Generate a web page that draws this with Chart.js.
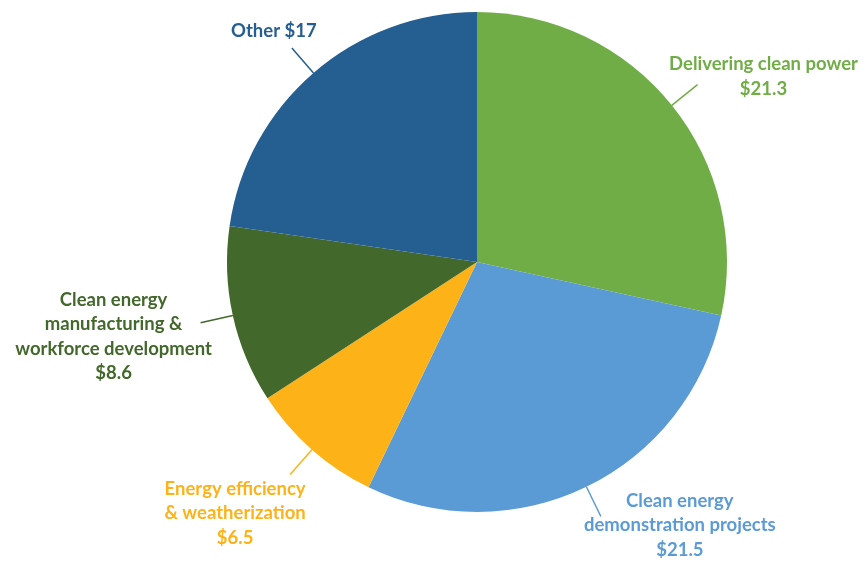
<!DOCTYPE html>
<html>
<head>
<meta charset="utf-8">
<script src="https://cdn.jsdelivr.net/npm/chart.js@4.4.1/dist/chart.umd.min.js"></script>
<style>
  html, body { margin: 0; padding: 0; background: #fff; }
  #wrap { width: 863px; height: 561px; position: relative; }
</style>
</head>
<body>
<div id="wrap"><canvas id="pieChart"></canvas></div>
<script>
// Data (billions of dollars)
const categories = [
    ['Delivering clean power'],
    ['Clean energy', 'demonstration projects'],
    ['Energy efficiency', '& weatherization'],
    ['Clean energy', 'manufacturing &', 'workforce development'],
    ['Other']
];
const values = [21.3, 21.5, 6.5, 8.6, 17];
const valueLabels = ['$21.3', '$21.5', '$6.5', '$8.6', '$17'];
const colors = ['#70AD47', '#5B9BD5', '#FDB218', '#43682B', '#255E91'];

// where each label block sits relative to the end of its leader line
const labelOffsets = [[66, -8], [79, 9], [-55, 39], [-87, 14], [-18, -17]];

const labelPlugin = {
    id: 'leaderLabels',
    afterDatasetsDraw(chart) {
        const c = chart.ctx;
        const arcs = chart.getDatasetMeta(0).data;
        c.save();
        c.font = 'bold 18.5px Lato';
        c.textAlign = 'center';
        c.textBaseline = 'middle';
        arcs.forEach((arc, i) => {
            const mid = (arc.startAngle + arc.endAngle) / 2;
            const r = arc.outerRadius;
            const x1 = arc.x + Math.cos(mid) * r;
            const y1 = arc.y + Math.sin(mid) * r;
            const x2 = arc.x + Math.cos(mid) * (r + 33);
            const y2 = arc.y + Math.sin(mid) * (r + 33);
            c.strokeStyle = colors[i];
            c.lineWidth = 1.5;
            c.beginPath();
            c.moveTo(x1, y1);
            c.lineTo(x2, y2);
            c.stroke();

            let lines = categories[i].slice();
            if (lines.length === 1 && i === 4) lines = [lines[0] + ' ' + valueLabels[i]];
            else lines.push(valueLabels[i]);
            const lh = 24.5;
            const cx = x2 + labelOffsets[i][0];
            const cy = y2 + labelOffsets[i][1];
            c.fillStyle = colors[i];
            lines.forEach((t, k) => {
                c.fillText(t, cx, cy + (k - (lines.length - 1) / 2) * lh);
            });
        });
        c.restore();
    }
};

const ctx = document.getElementById('pieChart').getContext('2d');
const pieChart = new Chart(ctx, {
    type: 'pie',
    data: {
        labels: categories.map(l => l.join(' ')),
        datasets: [{
            data: values,
            backgroundColor: colors,
            borderWidth: 0
        }]
    },
    options: {
        responsive: true,
        maintainAspectRatio: false,
        animation: false,
        layout: { padding: { left: 227, right: 136, top: 12, bottom: 49 } },
        plugins: { legend: { display: false }, tooltip: { enabled: false } }
    },
    plugins: [labelPlugin]
});
</script>
</body>
</html>
